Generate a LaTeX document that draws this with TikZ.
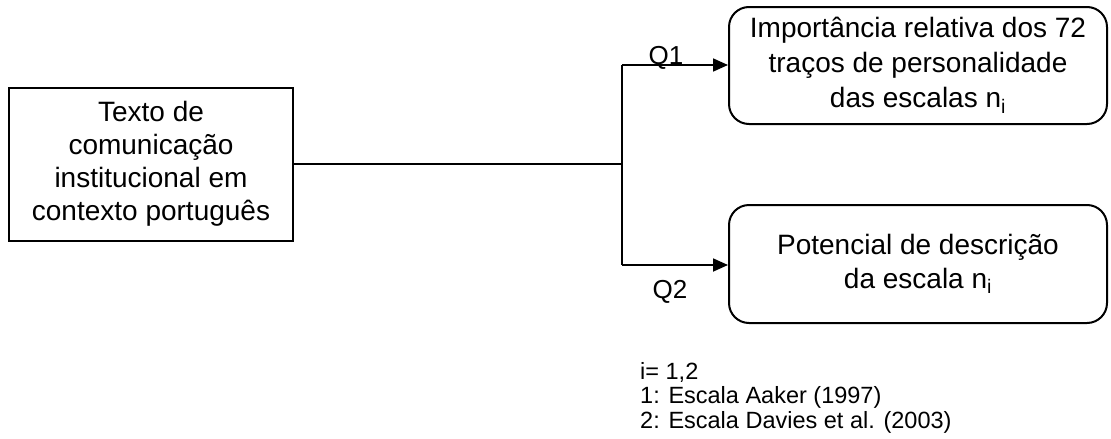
\documentclass[tikz,border=0pt]{standalone}
\usepackage{fontspec}
\setmainfont{Liberation Sans}
\usetikzlibrary{arrows.meta}
\tikzset{
  line/.style={line width=1.8pt},
  arrowline/.style={line width=1.8pt,-{Triangle[length=15pt,width=13pt]}},
  sqbox/.style={draw,line width=2pt,minimum width=284pt,minimum height=153pt,align=center,inner sep=0pt,font=\fontsize{28}{33}\selectfont},
  rdbox/.style={draw,line width=2pt,rounded corners=20pt,minimum width=378pt,align=center,inner sep=0pt},
  qlabel/.style={font=\fontsize{26}{30}\selectfont,inner sep=0pt},
  legend/.style={font=\fontsize{23.5}{24.5}\selectfont,align=left,inner sep=0pt,anchor=north west}
}
\begin{document}
\begin{tikzpicture}[x=1pt,y=-1pt]
\useasboundingbox[fill=white] (0,0) rectangle (1111,439);
\node[sqbox] (src) at (151,164) {Texto de\\comunicação\\institucional em\\contexto português};
\node[rdbox,minimum height=117pt,font=\fontsize{28}{35}\selectfont] (imp) at (918,65.5) {Importância relativa dos 72\\traços de personalidade\\das escalas n\textsubscript{i}};
\node[rdbox,minimum height=118pt,font=\fontsize{28}{34}\selectfont] (pot) at (918,264) {Potencial de descrição\\da escala n\textsubscript{i}};
\coordinate (j) at (622,164);
\coordinate (j1) at (622,65);
\coordinate (j2) at (622,265);
\draw[line] (src.east) -- (j);
\draw[line] (j1) -- (j2);
\draw[arrowline] (j1) -- (j1 -| imp.west);
\draw[arrowline] (j2) -- (j2 -| pot.west);
\node[qlabel,anchor=base] (q1) at (666,64) {Q1};
\node[qlabel,anchor=base] (q2) at (670,298) {Q2};
\node[legend] (leg) at (640,362) {i= 1,2\\ 1: Escala Aaker (1997)\\2: Escala Davies et al. (2003)};
\end{tikzpicture}
\end{document}
